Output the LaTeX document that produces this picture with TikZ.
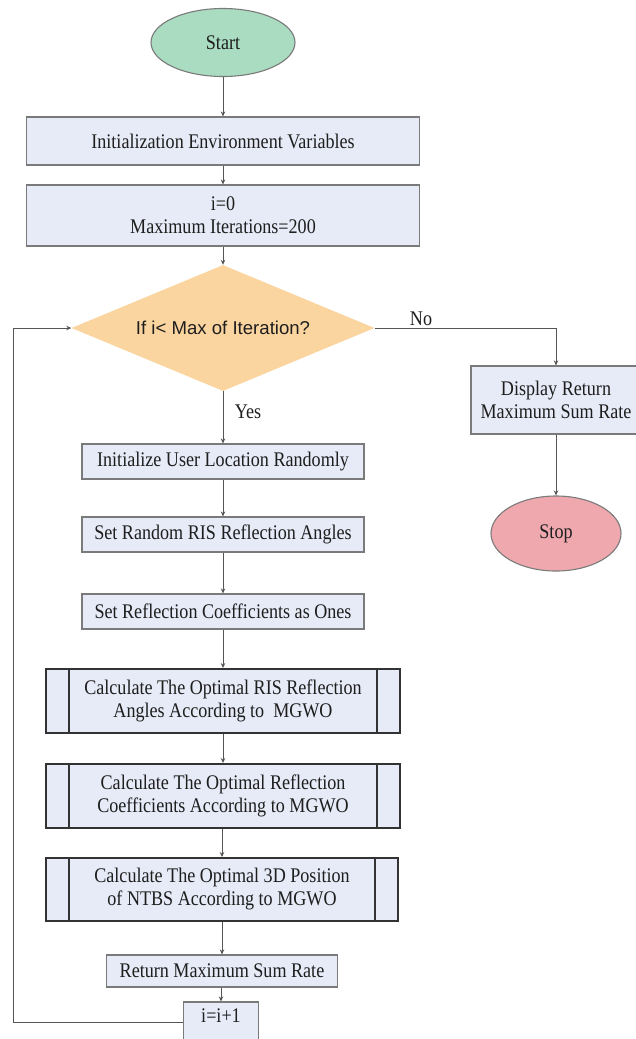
\documentclass[tikz,border=0pt]{standalone}
\usepackage{fontspec}
\setmainfont{Liberation Serif}[FakeStretch=0.87]
\newfontfamily\diafont{Liberation Sans}
\usetikzlibrary{shapes.geometric,arrows.meta}
\definecolor{boxfill}{HTML}{E7EBF7}
\definecolor{startfill}{HTML}{A9DCC0}
\definecolor{stopfill}{HTML}{EFA9AE}
\definecolor{decfill}{HTML}{FBD5A0}
\definecolor{linegray}{HTML}{555555}
\definecolor{bordergray}{HTML}{7A7A7A}
\definecolor{txt}{HTML}{1E1E1E}
\begin{document}
\begin{tikzpicture}[x=1pt,y=-1pt,
  every node/.style={text=txt,font=\fontsize{20.8}{23}\selectfont},
  termnode/.style={ellipse,draw=bordergray,line width=1.1pt,inner sep=0pt},
  procbox/.style={rectangle,draw=bordergray,fill=boxfill,line width=1.2pt,inner sep=0pt,align=center},
  predbox/.style={rectangle,draw=black!80,fill=boxfill,line width=2pt,inner sep=0pt,align=center},
  decnode/.style={diamond,fill=decfill,inner sep=0pt,aspect=2.4,font=\diafont\fontsize{18.6}{21}\selectfont},
  conn/.style={draw=linegray,line width=1pt,-{Stealth[length=5pt,width=4.5pt]}},
  plainline/.style={draw=linegray,line width=1pt},
  lbl/.style={inner sep=0pt}
]
\useasboundingbox (0,0) rectangle (636,1039);
\fill[white] (0,0) rectangle (636,1039);

\node[termnode,fill=startfill,minimum width=144pt,minimum height=68pt] (start) at (223,42.5) {Start};
\node[procbox,minimum width=393pt,minimum height=48pt] (init) at (223,141) {Initialization Environment Variables};
\node[procbox,minimum width=393pt,minimum height=61pt] (izero) at (223,215.5) {i=0\\Maximum Iterations=200};
\node[decnode,minimum width=303pt,minimum height=126pt] (dec) at (223,328) {If i< Max of Iteration?};
\node[procbox,minimum width=170pt,minimum height=68pt] (disp) at (556,400) {Display Return\\Maximum Sum Rate};
\node[termnode,fill=stopfill,minimum width=130pt,minimum height=75pt] (stop) at (556,533.5) {Stop};

\node[procbox,minimum width=282pt,minimum height=35pt] (iu) at (223,461.5) {Initialize User Location Randomly};
\node[procbox,minimum width=282pt,minimum height=35pt] (sr) at (223,534.5) {Set Random RIS Reflection Angles};
\node[procbox,minimum width=282pt,minimum height=35pt] (sc) at (223,611.5) {Set Reflection Coefficients as Ones};
\node[predbox,minimum width=354pt,minimum height=64pt] (ca) at (223,701) {Calculate The Optimal RIS Reflection\\Angles According to~~MGWO};
\node[predbox,minimum width=354pt,minimum height=64pt] (cb) at (223,796) {Calculate The Optimal Reflection\\Coefficients According to MGWO};
\node[predbox,minimum width=352pt,minimum height=63pt] (cc) at (222,889.5) {Calculate The Optimal 3D Position\\of NTBS According to MGWO};
\node[procbox,minimum width=231pt,minimum height=32pt] (ret) at (222,971) {Return Maximum Sum Rate};
\node[procbox,minimum width=75pt,text height=20pt,text depth=20pt] (inc) at (221,1022) {i=i+1};

\foreach \n in {ca,cb,cc}{
  \draw[black!80,line width=2pt] ([xshift=24pt]\n.north west) -- ([xshift=24pt]\n.south west);
  \draw[black!80,line width=2pt] ([xshift=-24pt]\n.north east) -- ([xshift=-24pt]\n.south east);
}

\coordinate (noturn) at (556,328);
\coordinate (loopbot) at (13.5,1022);
\coordinate (looptop) at (13.5,328);

\draw[conn] (start) -- (init);
\draw[conn] (init) -- (izero);
\draw[conn] (izero) -- (dec);
\draw[conn] (dec) -- (iu);
\draw[conn] (iu) -- (sr);
\draw[conn] (sr) -- (sc);
\draw[conn] (sc) -- (ca);
\draw[conn] (ca) -- (cb);
\draw[conn] (cb.south -| cc) -- (cc);
\draw[conn] (cc) -- (ret);
\draw[conn] (ret.south -| inc) -- (inc);
\draw[conn] (dec.east) -- (noturn) -- (disp.north);
\draw[conn] (disp) -- (stop);
\draw[conn] (inc.west) -- (loopbot) -- (looptop) -- (dec.west);

\node[lbl] (nolbl) at (421,319) {No};
\node[lbl] (yeslbl) at (248,412) {Yes};
\end{tikzpicture}
\end{document}
